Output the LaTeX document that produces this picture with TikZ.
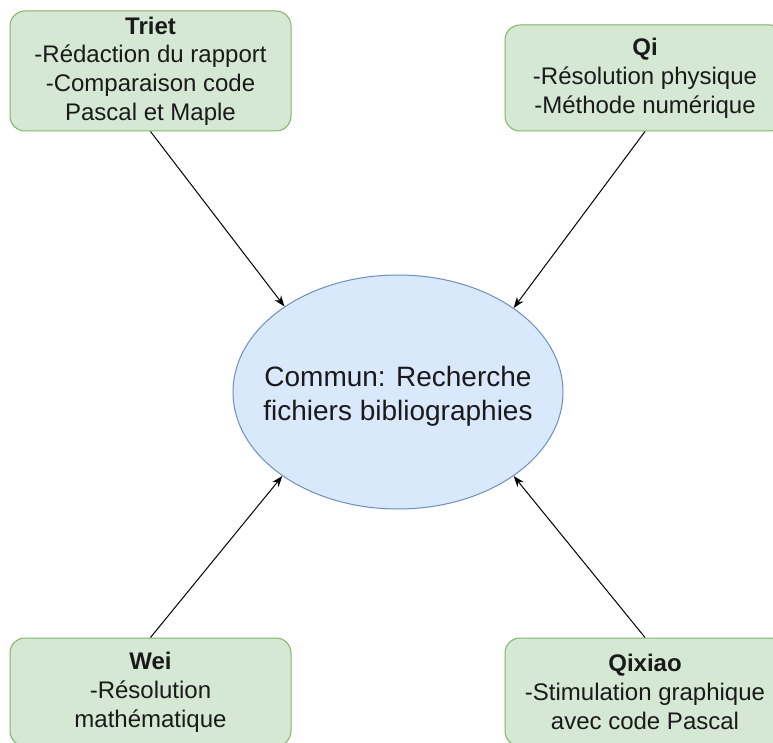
\documentclass[tikz,border=0pt]{standalone}
\usepackage{fontspec}
\setmainfont{Liberation Sans}
\usetikzlibrary{shapes.geometric,arrows.meta}
\definecolor{boxfill}{HTML}{D5E8D4}
\definecolor{boxline}{HTML}{82B366}
\definecolor{ellfill}{HTML}{DAE8FC}
\definecolor{ellline}{HTML}{6C8EBF}
\definecolor{txt}{HTML}{1A1A1A}
\tikzset{
  person/.style={draw=boxline, fill=boxfill, line width=1pt, rounded corners=15pt,
    minimum width=281pt, inner sep=0pt, align=center, text=txt,
    font=\fontsize{24}{28.8}\selectfont},
  center/.style={ellipse, draw=ellline, fill=ellfill, line width=1pt, inner sep=0pt,
    minimum width=330pt, minimum height=234pt},
  centertext/.style={align=center, text=txt, font=\fontsize{28}{33.6}\selectfont, yshift=-4pt},
  link/.style={line width=1pt, -{Stealth[length=11pt,width=8pt]}}
}
\begin{document}
\begin{tikzpicture}[x=1pt,y=-1pt]
\clip (0,0) rectangle (773,743);
\fill[white] (0,0) rectangle (773,743);
\node[person, minimum height=120pt] (triet) at (150.5,71) {\textbf{Triet}\\-Rédaction du rapport\\-Comparaison code\\Pascal et Maple};
\node[person, minimum width=280pt, minimum height=106pt] (qi) at (645,78) {\textbf{Qi}\\-Résolution physique\\-Méthode numérique};
\node[person, minimum height=108pt] (wei) at (150.5,692) {\textbf{Wei}\\-Résolution\\mathématique};
\node[person, minimum width=280pt, minimum height=108pt] (qixiao) at (645,692) {\textbf{Qixiao}\\-Stimulation graphique\\avec code Pascal};
\node[center, label={[centertext]center:Commun: Recherche\\fichiers bibliographies}] (ell) at (398,392) {};
\draw[link] (triet.south) -- (ell.143.8);
\draw[link] (qi.south) -- (ell.36.2);
\draw[link] (wei.north) -- (ell.216.2);
\draw[link] (qixiao.north) -- (ell.-36.2);
\end{tikzpicture}
\end{document}
